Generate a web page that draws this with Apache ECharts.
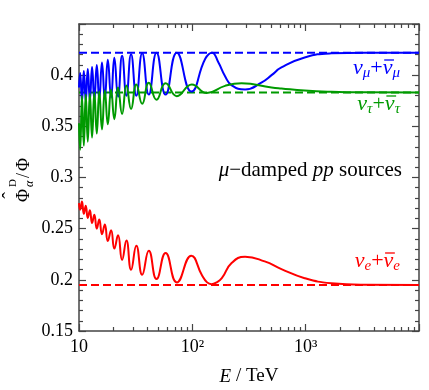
<!DOCTYPE html>
<html>
<head>
<meta charset="utf-8">
<script src="https://cdn.jsdelivr.net/npm/echarts@6/dist/echarts.min.js"></script>
<style>
  html, body { margin: 0; padding: 0; background: #fff; }
  #chart { width: 429px; height: 390px; }
</style>
</head>
<body>
<div id="chart"></div>
<script>
// values: [E (TeV), flux ratio]
const numu = [
  [10, 0.388], [10.24, 0.402], [10.62, 0.374], [11.03, 0.404], [11.47, 0.3745],
  [11.95, 0.406], [12.47, 0.375], [13.04, 0.408], [13.66, 0.3755], [14.35, 0.410],
  [15.1, 0.376], [15.95, 0.4125], [16.9, 0.377], [17.95, 0.415], [19.2, 0.378],
  [20.5, 0.417], [22.1, 0.379], [24.0, 0.419], [26.2, 0.380], [28.8, 0.4205],
  [32.05, 0.380], [36.1, 0.4215], [41.3, 0.381], [48.3, 0.422], [58.1, 0.381],
  [73.0, 0.422], [98, 0.384], [130, 0.416], [149, 0.422], [170, 0.4124], [194, 0.3993],
  [223, 0.390], [292, 0.386], [410, 0.393], [500, 0.400], [611, 0.4075],
  [980, 0.4173], [1683, 0.4213], [3300, 0.422], [10000, 0.422]
]
const nutau = [
  [10, 0.353], [10.24, 0.327], [10.62, 0.380], [11.03, 0.331], [11.47, 0.381],
  [11.95, 0.335], [12.47, 0.382], [13.04, 0.339], [13.66, 0.383], [14.35, 0.343],
  [15.1, 0.384], [15.95, 0.347], [16.9, 0.385], [17.95, 0.352], [19.2, 0.386],
  [20.5, 0.357], [22.1, 0.388], [24.0, 0.362], [26.2, 0.390], [28.8, 0.367],
  [32.05, 0.391], [36.1, 0.372], [41.3, 0.3925], [48.3, 0.376], [58.1, 0.392],
  [73.0, 0.3795], [99, 0.391], [134, 0.3825], [194, 0.3895], [272, 0.392],
  [500, 0.388], [611, 0.387], [980, 0.385], [1683, 0.3838], [3300, 0.3832],
  [10000, 0.383]
]
const nue = [
  [10, 0.275], [10.24, 0.2685], [10.62, 0.2765], [11.03, 0.2645], [11.47, 0.2725],
  [11.95, 0.2605], [12.47, 0.268], [13.04, 0.2555], [13.66, 0.2635], [14.35, 0.250],
  [15.1, 0.259], [15.95, 0.2445], [16.9, 0.254], [17.95, 0.238], [19.2, 0.2485],
  [20.5, 0.2305], [22.1, 0.2435], [24.0, 0.2195], [26.2, 0.2385], [28.8, 0.2098],
  [32.05, 0.2333], [36.1, 0.2049], [41.3, 0.2284], [48.3, 0.2007], [58.1, 0.2262],
  [73.0, 0.1975], [98, 0.2235], [121, 0.205], [135, 0.1975], [148, 0.1958],
  [162, 0.1972], [182, 0.2016], [222, 0.2164], [292, 0.2225], [435, 0.218],
  [611, 0.2105], [980, 0.2016], [1683, 0.1967], [3300, 0.1952], [10000, 0.195]
]
// asymptotic (dashed) levels: mu, tau, e
const limits = [0.422, 0.383, 0.195]
const colors = ['#0000ff', '#009a00', '#ff0000']
const eRange = [10, 10000]
const majorX = [10, 100, 1000, 10000]
const minorX = [20, 30, 40, 50, 60, 70, 80, 90, 200, 300, 400, 500, 600, 700, 800, 900,
  2000, 3000, 4000, 5000, 6000, 7000, 8000, 9000]
const xLabels = { 10: '10', 100: '10²', 1000: '10³' }

const serif = '"Liberation Serif", "DejaVu Serif", serif'
const frame = '#444'

function xAxisCfg(pos, ticks, len, labels, line) {
  return {
    type: 'log', logBase: 10, min: eRange[0], max: eRange[1], position: pos,
    axisLine: { show: line, lineStyle: { color: frame, width: 1.5 } },
    axisTick: { show: true, inside: true, length: len, customValues: ticks,
      lineStyle: { color: frame, width: 1.2 } },
    axisLabel: labels ? {
      show: true, customValues: [10, 100, 1000], margin: 7,
      formatter: v => xLabels[Math.round(v)] || '',
      color: '#000', fontFamily: serif, fontSize: 18
    } : { show: false },
    splitLine: { show: false }
  }
}
function yAxisCfg(pos, labels) {
  return {
    type: 'value', min: 0.15, max: 0.45, interval: 0.05, position: pos,
    axisLine: { show: true, lineStyle: { color: frame, width: 1.5 } },
    axisTick: { show: true, inside: true, length: 7, lineStyle: { color: frame, width: 1.2 } },
    minorTick: { show: true, splitNumber: 5, length: 4, lineStyle: { color: frame, width: 1.2 } },
    axisLabel: labels ? {
      show: true, showMaxLabel: false, margin: 6,
      formatter: v => String(+v.toFixed(2)),
      color: '#000', fontFamily: serif, fontSize: 18
    } : { show: false },
    splitLine: { show: false }, minorSplitLine: { show: false }
  }
}

const xAxes = [
  xAxisCfg('bottom', majorX, 7, true, true),
  xAxisCfg('bottom', minorX, 4, false, false),
  xAxisCfg('top', majorX, 7, false, true),
  xAxisCfg('top', minorX, 4, false, false)
]
xAxes[0].name = '{i|E} / TeV'
xAxes[0].nameLocation = 'middle'
xAxes[0].nameGap = 36
xAxes[0].nameTextStyle = {
  color: '#000', fontFamily: serif, fontSize: 19,
  rich: { i: { fontFamily: serif, fontSize: 19, fontStyle: 'italic', color: '#000' } }
}

const curves = [numu, nutau, nue]
const series = []
limits.forEach((v, i) => {
  series.push({
    type: 'line', xAxisIndex: 0, yAxisIndex: 0, showSymbol: false, z: 1,
    data: [[eRange[0], v], [eRange[1], v]],
    lineStyle: { color: colors[i], width: 2, type: [8, 4] }, silent: true
  })
})
curves.forEach((d, i) => {
  series.push({
    type: 'line', xAxisIndex: 0, yAxisIndex: 0, showSymbol: false, z: 2,
    smooth: 0.5, data: d,
    lineStyle: { color: colors[i], width: 2 }, silent: true
  })
})

// flavour labels "ν_a + ν̄_a": text plus a short bar over the antineutrino
const ctx = document.createElement('canvas').getContext('2d')
const tw = (font, s) => { ctx.font = font; return ctx.measureText(s).width }
const mainFont = 'italic 22px "Liberation Serif"'
const subFont = 'italic 15px "Liberation Serif"'
const plusFont = '22px "Liberation Serif"'
function flavourLabel(s, y, c, right) {
  const wn = tw(mainFont, 'ν'), ws = tw(subFont, s), wp = tw(plusFont, '+')
  const x0 = right - (2 * wn + 2 * ws + wp)
  const bx = x0 + wn + ws + wp
  return [{
    type: 'text', x: x0, y: y, z: 10,
    style: {
      text: `{i|ν}{s|${s}}{n|+}{i|ν}{s|${s}}`,
      rich: {
        i: { fontFamily: serif, fontSize: 22, fontStyle: 'italic', lineHeight: 26, fill: c },
        n: { fontFamily: serif, fontSize: 22, lineHeight: 26, fill: c },
        s: { fontFamily: serif, fontSize: 15, fontStyle: 'italic', lineHeight: 14, verticalAlign: 'bottom', fill: c }
      },
      textAlign: 'left', textVerticalAlign: 'middle', fill: c
    }
  }, {
    type: 'line', z: 10,
    shape: { x1: bx + 1.5, y1: y - 8, x2: bx + wn + 1.5, y2: y - 8 },
    style: { stroke: c, lineWidth: 1.3 }
  }]
}

const chart = echarts.init(document.getElementById('chart'), null, { renderer: 'canvas' })
chart.setOption({
  animation: false,
  grid: { left: 79, right: 10, top: 24, bottom: 59, containLabel: false, outerBoundsMode: 'none' },
  xAxis: xAxes,
  yAxis: [yAxisCfg('left', true), yAxisCfg('right', false)],
  series: series,
  graphic: [
    ...flavourLabel('μ', 68, colors[0], 400),
    ...flavourLabel('τ', 104, colors[1], 400),
    ...flavourLabel('e', 261, colors[2], 400),
    {
      type: 'text', x: 402, y: 170, z: 10,
      style: {
        text: '{i|μ}{n|−damped }{i|pp}{n| sources}',
        rich: {
          i: { fontFamily: serif, fontSize: 21, fontStyle: 'italic', fill: '#000' },
          n: { fontFamily: serif, fontSize: 21, fill: '#000' }
        },
        textAlign: 'right', textVerticalAlign: 'middle'
      }
    },
    {
      type: 'group', x: 24, y: 180, rotation: Math.PI / 2,
      children: [
        { type: 'text', x: -22, y: 0, style: { text: 'Φ', font: '18px ' + serif, textAlign: 'left', textVerticalAlign: 'middle', fill: '#000' } },
        { type: 'text', x: -15.5, y: -12, style: { text: '\u02C6', font: '20px ' + serif, textAlign: 'center', textVerticalAlign: 'middle', fill: '#000' } },
        { type: 'text', x: -7, y: -11, style: { text: 'D', font: '11px ' + serif, textAlign: 'left', textVerticalAlign: 'middle', fill: '#000' } },
        { type: 'text', x: -7, y: 6, style: { text: 'α', font: 'italic 12px ' + serif, textAlign: 'left', textVerticalAlign: 'middle', fill: '#000' } },
        { type: 'text', x: 2, y: 0, style: { text: '/', font: '18px ' + serif, textAlign: 'left', textVerticalAlign: 'middle', fill: '#000' } },
        { type: 'text', x: 9, y: 0, style: { text: 'Φ', font: '18px ' + serif, textAlign: 'left', textVerticalAlign: 'middle', fill: '#000' } }
      ]
    }
  ]
})
</script>
</body>
</html>
